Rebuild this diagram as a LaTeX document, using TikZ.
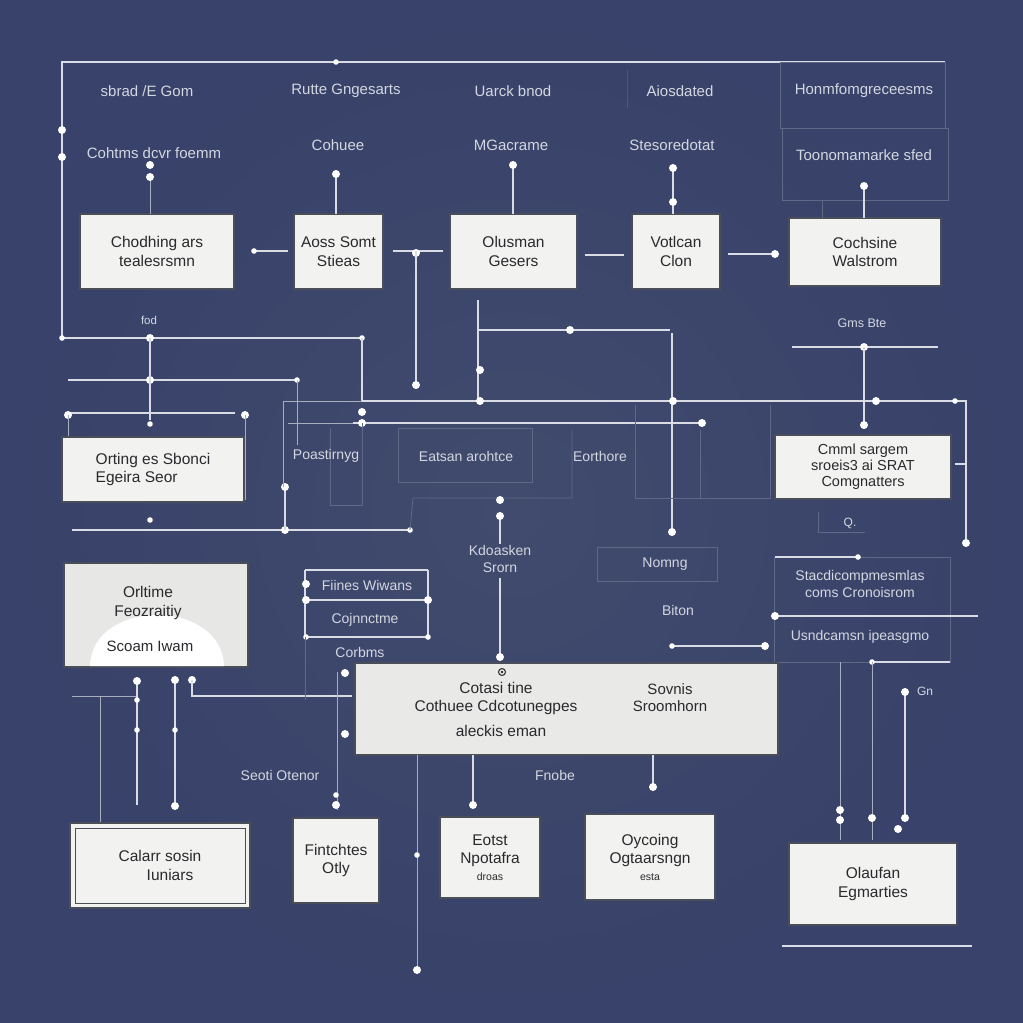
\documentclass[tikz,border=0pt]{standalone}
\usepackage{fontspec}
\setmainfont{Liberation Sans}
\begin{document}
\definecolor{bgA}{HTML}{38426A}
\definecolor{bgB}{HTML}{414B6D}
\definecolor{wirec}{HTML}{D9DCE4}
\definecolor{labc}{HTML}{D3D7E0}
\definecolor{boxfill}{HTML}{F2F2F0}
\definecolor{boxedge}{HTML}{4A4E58}
\definecolor{boxtext}{HTML}{2A2A2E}
\begin{tikzpicture}[x=1pt,y=-1pt,
  box/.style={draw=boxedge, line width=1.3pt, fill=boxfill, text=boxtext,
    font=\fontsize{15.5}{18.5}\selectfont, align=center, inner sep=0pt},
  lab/.style={text=labc, font=\fontsize{14}{16.5}\selectfont, inner sep=1pt, align=center},
  toplab/.style={lab, font=\fontsize{15}{17}\selectfont},
  wire/.style={draw=wirec, line width=2pt},
  thinw/.style={draw=wirec!70!bgA, line width=1pt},
  faint/.style={draw=wirec!25!bgA, line width=0.8pt},
  vfaint/.style={draw=wirec!14!bgA, line width=0.8pt}]
\newcommand\mydot[1]{\fill[white] (#1) circle (4pt);}
\newcommand\smdot[1]{\fill[white] (#1) circle (2.8pt);}
% background
\useasboundingbox (0,0) rectangle (1023,1023);
\shade[inner color=bgB, outer color=bgA] (0,0) rectangle (1023,1023);

% ---------- top frame ----------
\draw[wire] (62,338) -- (62,62) -- (945,62);
\mydot{62,130} \mydot{62,157} \smdot{336,62}
\draw[faint] (780,62) rectangle (945,128);
\draw[faint] (782,128) rectangle (948,200);
\draw[vfaint] (627,70) -- (627,108);

% top labels
\node[toplab] (t1) at (147,91) {sbrad /E Gom};
\node[toplab] (t2) at (346,91) {Rutte Gngesarts};
\node[toplab] (t3) at (513,91) {Uarck bnod};
\node[toplab] (t4) at (680,91) {Aiosdated};
\node[toplab] (t5) at (864,91) {Honmfomgreceesms};
\node[toplab] (s1) at (154,153) {Cohtms dcvr foemm};
\node[toplab] (s2) at (338,145) {Cohuee};
\node[toplab] (s3) at (511,145) {MGacrame};
\node[toplab] (s4) at (672,145) {Stesoredotat};
\node[toplab] (s5) at (864,155) {Toonomamarke sfed};

% row 1 boxes
\node[box, minimum width=154pt, minimum height=75pt] (b1) at (157,251.5) {Chodhing ars\\tealesrsmn};
\node[box, minimum width=89pt, minimum height=75pt] (b2) at (338.5,251.5) {Aoss Somt\\Stieas};
\node[box, minimum width=127pt, minimum height=75pt] (b3) at (513.5,251.5) {Olusman\\Gesers};
\node[box, minimum width=88pt, minimum height=75pt] (b4) at (676,251.5) {Votlcan\\Clon};
\node[box, minimum width=152pt, minimum height=68pt] (b5) at (865,252) {Cochsine\\Walstrom};

% row 1 verticals
\draw[thinw] (150,177) -- (150,214); \mydot{150,165} \mydot{150,177}
\draw[wire] (336,174) -- (336,214); \mydot{336,174}
\draw[wire] (513,165) -- (513,214); \mydot{513,165}
\draw[wire] (673,168) -- (673,214); \mydot{673,168} \mydot{673,202}
\draw[wire] (864,186) -- (864,218); \mydot{864,186}
\draw[faint] (822,218) -- (822,200) -- (830,200);
\draw[faint] (895,200) -- (945,200);

% row 1 horizontals
\draw[wire] (254,251) -- (288,251); \smdot{254,251}
\draw[wire] (393,251) -- (443,251); \mydot{416,253}
\draw[wire] (416,251) -- (416,385); \mydot{416,385}
\draw[wire] (585,255) -- (624,255);
\draw[wire] (728,254) -- (775,254); \mydot{775,254}

% vertical 478 and bridge to 672
\draw[wire] (478,300) -- (478,401);
\mydot{480,370}
\draw[wire] (478,330) -- (670,330); \mydot{570,330}
\draw[wire] (672,333) -- (672,532); \mydot{672,532}

% ---------- left area ----------
\node[lab, font=\fontsize{11.5}{13}\selectfont] (fod) at (149,320) {fod};
\draw[wire] (62,338) -- (362,338); \smdot{62,338} \mydot{150,338} \smdot{362,338}
\draw[wire] (362,338) -- (362,401);
\draw[wire] (68,380) -- (297,380); \mydot{150,380} \smdot{297,380}
\draw[thinw] (297,380) -- (297,445);
\draw[wire] (150,338) -- (150,420); \smdot{150,424}
\draw[wire] (68,413) -- (235,413); \mydot{68,415} \mydot{245,415}
\draw[thinw] (68,415) -- (68,437);
\draw[thinw] (245,415) -- (245,500);
\node[box, minimum width=182pt, minimum height=65pt, align=left] (b6) at (153,469.5) {Orting es Sbonci\\Egeira Seor};
\draw[wire] (72,530) -- (410,530); \mydot{285,530} \smdot{410,530} \smdot{150,520}
\draw[wire] (285,487) -- (285,530); \mydot{285,487}
\draw[thinw] (283,487) -- (283,401) -- (362,401);

% ---------- middle ----------
\draw[wire] (362,401) -- (958,401);
\mydot{480,401} \mydot{673,401} \mydot{876,401} \smdot{955,401}
\draw[thinw] (288,423) -- (353,423);
\draw[wire] (353,423) -- (702,423); \mydot{362,412} \mydot{362,423} \mydot{702,423}
\draw[faint] (330,428) -- (330,505) -- (362,505) -- (362,423);
\node[lab] (p1) at (326,456) {Poastirnyg};
\draw[faint] (398,428) rectangle (532,482);
\node[lab] (p2) at (466,456) {Eatsan arohtce};
\draw[faint] (410,530) -- (413,498) -- (572,498) -- (572,430);
\node[lab] (p3) at (600,456) {Eorthore};
\draw[faint] (635,405) -- (635,498) -- (770,498) -- (770,405);
\draw[faint] (700,430) -- (700,498);
\draw[wire] (500,516) -- (500,544); \mydot{500,500} \mydot{500,516}
\node[lab] (kd) at (500,559) {Kdoasken\\Srorn};
\draw[wire] (500,578) -- (500,657); \mydot{500,657} \mydot{500,667}

% ---------- right ----------
\node[lab, font=\fontsize{12.5}{14}\selectfont] (gms) at (862,323) {Gms Bte};
\draw[wire] (792,347) -- (938,347); \mydot{864,347}
\draw[wire] (864,347) -- (864,425); \mydot{864,425}
\node[box, minimum width=176pt, minimum height=64pt, font=\fontsize{14.5}{16}\selectfont] (b7) at (863,467) {Cmml sargem\\sroeis3 ai SRAT\\Comgnatters};
\draw[wire] (958,401) -- (966,401) -- (966,543); \mydot{966,543}
\draw[wire] (955,464) -- (966,464);
\node[lab, font=\fontsize{12}{13}\selectfont] (q) at (850,523) {Q.};
\draw[faint] (818,512) -- (818,532) -- (865,532);
\draw[faint] (597,547) rectangle (717,581);
\node[lab] (nm) at (665,564) {Nomng};
\node[lab] (bt) at (678,610) {Biton};
\draw[wire] (672,646) -- (765,646); \smdot{672,646} \mydot{765,646}
\draw[faint] (774,557) rectangle (950,662);
\draw[wire] (775,557) -- (858,557); \smdot{858,557}
\node[lab] (r1) at (860,584) {Stacdicompmesmlas\\coms Cronoisrom};
\draw[wire] (775,616) -- (978,616); \mydot{775,616}
\node[lab] (r2) at (860,637) {Usndcamsn ipeasgmo};
\draw[wire] (872,662) -- (950,662); \smdot{872,662}
\draw[thinw] (840,662) -- (840,840); \mydot{840,810} \mydot{840,820}
\draw[thinw] (872,662) -- (872,840); \mydot{872,818}
\draw[wire] (905,692) -- (905,818); \mydot{905,692} \mydot{905,818} \mydot{898,829}
\node[lab, font=\fontsize{12}{13}\selectfont] (gn) at (925,691) {Gn};
\node[box, minimum width=168pt, minimum height=82pt] (b14) at (873,884) {Olaufan\\Egmarties};
\draw[wire] (782,946) -- (972,946);

% ---------- bottom left ----------
\node[box, minimum width=184pt, minimum height=104pt, fill=boxfill!90!gray] (b8) at (156,615) {};
\fill[white] (90,666) .. controls (92,598) and (222,598) .. (224,666) -- cycle;
\node[text=boxtext, font=\fontsize{15.5}{18.5}\selectfont, align=center] (b8t) at (148,603) {Orltime\\Feozraitiy};
\node[text=boxtext, font=\fontsize{15}{18}\selectfont] (b8s) at (150,646) {Scoam Iwam};
\draw[thinw] (72,696) -- (137,696);
\draw[thinw] (100,696) -- (100,822);
\draw[wire] (137,681) -- (137,805); \mydot{137,681} \smdot{137,700} \smdot{137,730}
\draw[wire] (175,680) -- (175,806); \mydot{175,680} \smdot{175,730} \mydot{175,806}
\mydot{192,680}
\draw[wire] (192,680) -- (192,696) -- (352,696);
% Hnus box
\draw[wire] (305,570) -- (428,570);
\draw[wire] (305,600) -- (428,600);
\draw[wire] (305,637) -- (428,637);
\draw[wire] (305,570) -- (305,637);
\draw[wire] (428,570) -- (428,637);
\mydot{306,584} \mydot{306,600} \mydot{428,600} \smdot{306,637} \smdot{428,637}
\node[lab] (h1) at (367,585) {Fiines Wiwans};
\node[lab] (h2) at (365,620) {Cojnnctme};
\node[lab] (cb) at (360,652) {Corbms};
\draw[thinw] (337,672) -- (337,810);
\mydot{345,673} \mydot{345,734} \smdot{336,795} \mydot{336,805}
\draw[faint] (305,637) -- (305,700);
\node[lab] (so) at (280,775) {Seoti Otenor};

% big box
\node[box, minimum width=423pt, minimum height=92pt, fill=boxfill!92!gray] (b11) at (566.5,709) {};
\draw[boxtext, line width=1pt] (502,672) circle (3.5pt);
\fill[boxtext] (502,672) circle (1.3pt);
\node[text=boxtext, font=\fontsize{15.5}{18}\selectfont, align=center] (b11a) at (496,698) {Cotasi tine\\Cothuee Cdcotunegpes};
\node[text=boxtext, font=\fontsize{15.5}{18}\selectfont] (b11b) at (501,731) {aleckis eman};
\node[text=boxtext, font=\fontsize{15}{17}\selectfont, align=center] (b11c) at (670,698) {Sovnis\\Sroomhorn};

% bottom row
\node[box, minimum width=180pt, minimum height=85pt] (b9) at (160,865.5) {Calarr sosin\\\hspace*{20pt}Iuniars};
\draw[boxedge, line width=0.8pt] (75,828) rectangle (245,903);
\node[box, minimum width=86pt, minimum height=85pt] (b10) at (336,860.5) {Fintchtes\\Otly};
\node[box, minimum width=100pt, minimum height=81pt] (b12) at (490,857.5) {Eotst\\Npotafra\\[-2pt]{\fontsize{10.5}{12}\selectfont droas}};
\node[box, minimum width=130pt, minimum height=86pt] (b13) at (650,857) {Oycoing\\Ogtaarsngn\\[-2pt]{\fontsize{10.5}{12}\selectfont esta}};
\draw[thinw] (417,755) -- (417,968); \smdot{417,855} \mydot{417,970}
\draw[wire] (473,755) -- (473,805); \mydot{473,805}
\node[lab] (fn) at (555,775) {Fnobe};
\draw[wire] (653,755) -- (653,787); \mydot{653,787}
\end{tikzpicture}
\end{document}
